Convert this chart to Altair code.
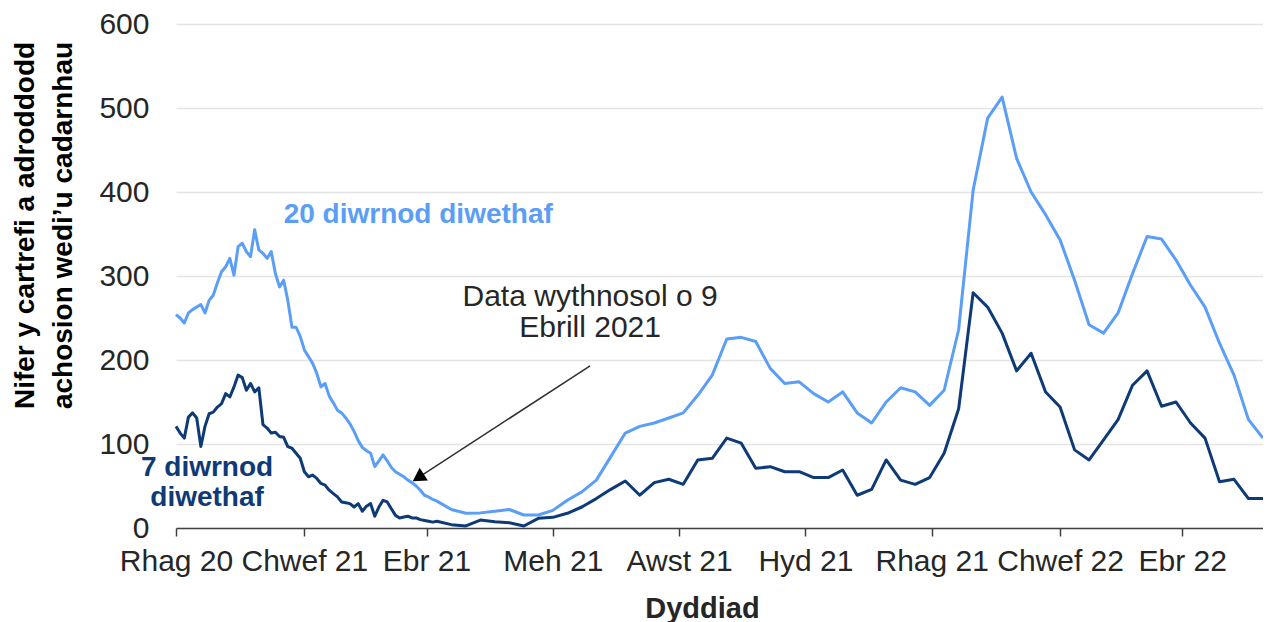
import altair as alt
import pandas as pd

# ---------------- data ----------------
tick_dates = ["2020-12-01", "2021-02-01", "2021-04-01", "2021-06-01", "2021-08-01",
              "2021-10-01", "2021-12-01", "2022-02-01", "2022-04-01"]
tick_labels = ["Rhag 20", "Chwef 21", "Ebr 21", "Meh 21", "Awst 21",
               "Hyd 21", "Rhag 21", "Chwef 22", "Ebr 22"]
y_ticks = [0, 100, 200, 300, 400, 500, 600]

series_names = ["20 diwrnod diwethaf", "7 diwrnod diwethaf"]
series_colors = ["#5A9EF5", "#0E3A76"]

# daily period (read every second day)
daily_start = "2020-12-01"
daily_20 = [254, 250, 244, 256, 260, 263, 266, 256, 271, 277, 292, 305, 311, 321, 301,
            335, 339, 329, 323, 355, 331, 327, 321, 329, 303, 287, 295, 271, 239, 239,
            228, 212, 204, 196, 184, 168, 172, 157, 149, 140, 137, 131, 124, 115, 104,
            96, 92, 89, 73, 80, 87, 80, 72, 67, 64, 61, 57, 54, 50, 45, 39, 37, 34]
daily_7 = [121, 113, 107, 132, 137, 131, 97, 121, 136, 138, 144, 148, 160, 156, 168,
           182, 179, 164, 172, 162, 167, 123, 119, 113, 114, 109, 108, 97, 95, 89,
           83, 67, 61, 63, 59, 53, 51, 45, 41, 37, 31, 30, 29, 25, 29,
           20, 26, 29, 14, 25, 33, 31, 23, 15, 12, 13, 14, 12, 12, 10, 9, 8, 7]

# weekly period
weekly_start = "2021-04-06"
weekly_20 = [32, 22, 17.5, 18, 20, 22, 15.5, 15.5, 21, 33,
             43, 57, 85, 113, 121, 125, 131, 137, 158, 182,
             225, 227, 222, 190, 172, 174, 160, 150, 162, 137,
             125, 150, 167, 162, 146, 164, 236, 402, 488, 513,
             440, 400, 373, 343, 295, 242, 232, 256, 303, 347,
             344, 319, 289, 263, 220, 182, 129, 107]
weekly_7 = [8, 4, 2.4, 9.5, 7.5, 6.3, 2.4, 11.5, 12.7, 17.5,
            25, 35, 46, 56, 39, 54, 58, 52, 81, 83,
            107, 101, 71, 73, 67, 67, 60, 60, 69, 39,
            46, 81, 57, 52, 60, 89, 142, 280, 263, 232,
            187, 208, 162, 144, 93, 81, 105, 129, 170, 187,
            145, 150, 125, 107, 55, 58, 35, 35]

x_domain = ["2020-12-01", "2022-05-10"]

# annotations (data coordinates; multi-line texts anchored at their first line)
label20 = {"date": "2021-03-28", "value": 373, "text": "20 diwrnod diwethaf"}
label7 = {"date": "2020-12-16", "value": 72, "text": ["7 diwrnod", "diwethaf"]}
note = {"date": "2021-06-19", "value": 275, "text": ["Data wythnosol o 9", "Ebrill 2021"]}
arrow = {"date": "2021-06-19", "value": 193, "date2": "2021-03-28", "value2": 60}

y_title = ["Nifer y cartrefi a adroddodd", "achosion wedi\u2019u cadarnhau"]
x_title = "Dyddiad"

FONT = "Liberation Sans"
TEXT = "#262626"

# ---------------- build table ----------------
rows = []
dd = pd.date_range(daily_start, periods=len(daily_20), freq="2D")
for d, a, b in zip(dd, daily_20, daily_7):
    rows.append({"date": d.strftime("%Y-%m-%d"), "value": a, "series": series_names[0], "ord": 0})
    rows.append({"date": d.strftime("%Y-%m-%d"), "value": b, "series": series_names[1], "ord": 1})
wd = pd.date_range(weekly_start, periods=len(weekly_20), freq="7D")
for d, a, b in zip(wd, weekly_20, weekly_7):
    rows.append({"date": d.strftime("%Y-%m-%d"), "value": a, "series": series_names[0], "ord": 0})
    rows.append({"date": d.strftime("%Y-%m-%d"), "value": b, "series": series_names[1], "ord": 1})
df = pd.DataFrame(rows)


def dt(s):
    t = pd.Timestamp(s)
    return alt.DateTime(year=t.year, month=t.month, date=t.day, utc=True)


label_expr = "".join(
    f"utcFormat(datum.value, '%Y-%m-%d') == '{d}' ? '{l}' : "
    for d, l in zip(tick_dates, tick_labels)
) + "''"

x_scale = alt.Scale(type="utc", domain=[dt(x_domain[0]), dt(x_domain[1])])
y_scale = alt.Scale(domain=[0, 600], nice=False)

x_axis = alt.Axis(
    values=[dt(d) for d in tick_dates],
    labelExpr=label_expr,
    labelFlush=False,
    labelOverlap=False,
    grid=False,
    domainColor="#404040",
    domainWidth=1.5,
    tickColor="#404040",
    tickWidth=1.5,
    tickSize=8,
    labelFont=FONT,
    labelFontSize=30,
    labelColor=TEXT,
    labelPadding=10,
    title=x_title,
    titleFont=FONT,
    titleFontSize=29,
    titleFontWeight="bold",
    titleColor=TEXT,
    titleX=526,
    titleY=89,
    titleAlign="center",
    titleBaseline="alphabetic",
)

y_axis = alt.Axis(
    values=y_ticks,
    grid=True,
    gridColor="#E4E4E4",
    gridWidth=1.5,
    domain=False,
    ticks=False,
    tickSize=0,
    labelFont=FONT,
    labelFontSize=30,
    labelColor=TEXT,
    labelPadding=27,
    title=y_title,
    titleFont=FONT,
    titleFontSize=28,
    titleFontWeight="bold",
    titleColor="#000000",
    titleAngle=270,
    titleX=-143,
    titleY=201,
    titleAlign="center",
    titleBaseline="alphabetic",
    titleLineHeight=38,
)

lines = alt.Chart(df).mark_line(strokeWidth=3, strokeJoin="round").encode(
    x=alt.X("date:T", scale=x_scale, axis=x_axis),
    y=alt.Y("value:Q", scale=y_scale, axis=y_axis),
    color=alt.Color("series:N", scale=alt.Scale(domain=series_names, range=series_colors), legend=None),
    order="ord:Q",
)

t20 = alt.Chart(pd.DataFrame([label20])).mark_text(
    font=FONT, fontSize=28, fontWeight="bold", color=series_colors[0], align="center", baseline="middle"
).encode(x=alt.X("date:T", scale=x_scale), y=alt.Y("value:Q", scale=y_scale), text="text")

t7 = alt.Chart(pd.DataFrame([{"date": label7["date"], "value": label7["value"]}])).mark_text(
    font=FONT, fontSize=28, fontWeight="bold", color=series_colors[1], align="center",
    baseline="middle", lineHeight=30, text=label7["text"]
).encode(x=alt.X("date:T", scale=x_scale), y=alt.Y("value:Q", scale=y_scale))

tnote = alt.Chart(pd.DataFrame([{"date": note["date"], "value": note["value"]}])).mark_text(
    font=FONT, fontSize=30, color=TEXT, align="center", baseline="middle", lineHeight=31, text=note["text"]
).encode(x=alt.X("date:T", scale=x_scale), y=alt.Y("value:Q", scale=y_scale))

adf = pd.DataFrame([arrow])
arrow_line = alt.Chart(adf).mark_rule(color="#303030", strokeWidth=1.5).encode(
    x=alt.X("date:T", scale=x_scale), y=alt.Y("value:Q", scale=y_scale),
    x2="date2:T", y2="value2:Q",
)
arrow_head = alt.Chart(adf).mark_point(
    shape="triangle-up", filled=True, color="#000000", size=230, angle=237, opacity=1
).encode(x=alt.X("date2:T", scale=x_scale), y=alt.Y("value2:Q", scale=y_scale))

chart = alt.layer(lines, t20, t7, tnote, arrow_line, arrow_head).properties(
    width=1087,
    height=504,
    autosize=alt.AutoSizeParams(type="none"),
    padding={"left": 168, "top": 16, "right": 0, "bottom": 94},
).configure_view(strokeWidth=0)

chart.save("out.html", embed_options={"renderer": "svg", "actions": False})
